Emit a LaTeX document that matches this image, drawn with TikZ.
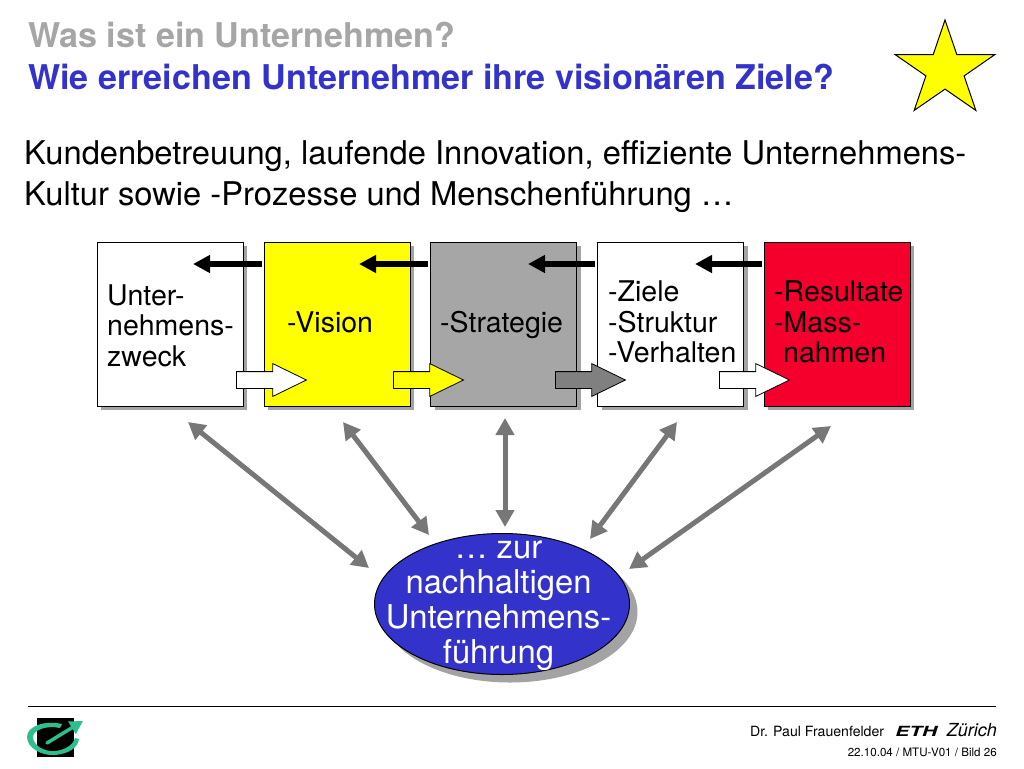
\documentclass[tikz,border=0pt]{standalone}
\usepackage{fontspec}
\setmainfont{TeX Gyre Heros}
\usetikzlibrary{
    arrows.meta,
    shapes.geometric,
    shapes.arrows,
    shadows,
    calc
}
\definecolor{titleblue}{HTML}{3333CC}
\definecolor{titlegray}{HTML}{A6A6A6}
\definecolor{boxgray}{HTML}{A6A6A6}
\definecolor{boxyellow}{HTML}{FFFF00}
\definecolor{shadowgray}{HTML}{A3A3A3}
\definecolor{blockgray}{HTML}{808080}
\definecolor{linkgray}{HTML}{777777}
\definecolor{boxred}{HTML}{F5002D}
\definecolor{logogreen}{HTML}{2DBE8C}
\tikzset {
    title text/.style = {anchor = base west, inner sep = 0pt, font = \fontsize{34.1}{38}\selectfont\bfseries},
    body text/.style = {anchor = base west, inner sep = 0pt, font = \fontsize{32.7}{36}\selectfont},
    box/.style = {
        draw = black, line width = 1pt, minimum width = 146pt, minimum height = 164pt,
        drop shadow = {shadow xshift = 4pt, shadow yshift = -4pt, fill = shadowgray, opacity = 1}
    },
    box text/.style = {
        anchor = north west, inner sep = 0pt, align = left,
        font = \fontsize{28.5}{30.5}\selectfont
    },
    back arrow/.style = {
        line width = 5.5pt, shorten <= 2pt,
        arrows = {-Triangle[length = 17pt, width = 17pt]}
    },
    block arrow/.style = {
        draw = black, line width = .8pt, shape = single arrow, anchor = tail,
        inner xsep = 0pt, inner ysep = 8pt,
        minimum height = 70pt, minimum width = 32pt,
        single arrow head extend = 8pt, single arrow tip angle = 52,
        single arrow head indent = 0pt
    },
    link/.style = {
        draw = linkgray, line width = 5pt,
        arrows = {Triangle[length = 17pt, width = 18pt]-Triangle[length = 17pt, width = 18pt]}
    }
}
\begin{document}
\begin{tikzpicture}[x = 1pt, y = -1pt]
    \useasboundingbox (0, 0) rectangle (1024, 768);
    \node (titlea) [title text, text = titlegray] at (28, 48) {Was ist ein Unternehmen?};
    \node (titleb) [title text, text = titleblue] at (28, 89) {Wie erreichen Unternehmer ihre visionären Ziele?};
    \node (star) [star, star points = 5, star point ratio = 2.618, draw = black, line width = 1pt,
        fill = boxyellow, minimum size = 100pt, inner sep = 0pt, xscale = 1.05] at (945, 70) {};
    \node (bodya) [body text] at (24, 164) {Kundenbetreuung, laufende Innovation, effiziente Unternehmens-};
    \node (bodyb) [body text] at (24, 205) {Kultur sowie -Prozesse und Menschenführung …};

    \node (zweck) [box, fill = white] at (170, 324) {};
    \node (vision) [box, fill = boxyellow] at (337, 324) {};
    \node (strategie) [box, fill = boxgray] at (503.5, 324) {};
    \node (ziele) [box, fill = white] at (670.5, 324) {};
    \node (resultate) [box, fill = boxred] at (837, 324) {};

    \coordinate (tipa) at (193, 264);
    \coordinate (tipb) at (359, 264);
    \coordinate (tipc) at (528, 264);
    \coordinate (tipd) at (695, 264);
    \draw [back arrow] (vision.west |- tipa) -- (tipa);
    \draw [back arrow] (strategie.west |- tipb) -- (tipb);
    \draw [back arrow] (ziele.west |- tipc) -- (tipc);
    \draw [back arrow] (resultate.west |- tipd) -- (tipd);

    \node (zwecktext) [box text] at (107, 284.5) {Unter-\\nehmens-\\zweck};
    \node (visiontext) [box text, anchor = base west] at (287, 332) {-Vision};
    \node (strategietext) [box text, anchor = base west] at (440, 332) {-Strategie};
    \node (zieletext) [box text] at (608, 281) {-Ziele\\-Struktur\\-Verhalten};
    \node (resultatetext) [box text] at (774, 281) {-Resultate\\-Mass-\\\hspace*{9pt}nahmen};

    \node (blocka) [block arrow, fill = white] at (236, 380) {};
    \node (blockb) [block arrow, fill = boxyellow] at (393, 380) {};
    \node (blockc) [block arrow, fill = blockgray] at (555, 380) {};
    \node (blockd) [block arrow, fill = white] at (719, 380) {};

    \node (kern) [ellipse, draw = black, line width = 1pt, fill = titleblue,
        minimum width = 255pt, minimum height = 141pt, inner sep = 0pt,
        drop shadow = {shadow xshift = 8pt, shadow yshift = -8pt, fill = shadowgray, opacity = 1}]
        at (502, 604) {};
    \node (kerntext) [text = white, inner sep = 0pt, align = center,
        font = \fontsize{32.8}{35}\selectfont] at (498.5, 606) {… zur\\nachhaltigen\\Unternehmens-\\führung};

    \coordinate (linka) at (188, 422);
    \coordinate (linkb) at (343, 422);
    \coordinate (linkc) at (505, 418);
    \coordinate (linkd) at (677, 422);
    \coordinate (linke) at (831, 426);
    \coordinate (enda) at (369, 568);
    \coordinate (endb) at (429, 535);
    \coordinate (endc) at (505, 527);
    \coordinate (endd) at (590, 539);
    \coordinate (ende) at (629, 569);
    \draw [link] (linka) -- (enda);
    \draw [link] (linkb) -- (endb);
    \draw [link] (linkc) -- (endc);
    \draw [link] (linkd) -- (endd);
    \draw [link] (linke) -- (ende);

    \coordinate (rulea) at (28, 706.5);
    \coordinate (ruleb) at (996, 706.5);
    \draw [line width = 1pt] (rulea) -- (ruleb);
    \node (logo) [fill = black, minimum width = 37pt, minimum height = 39pt, inner sep = 0pt] at (55.5, 737.5) {};
    \fill [logogreen] (62, 724) .. controls (45, 720) and (27, 726) .. (27, 737)
        .. controls (27, 748) and (42, 756) .. (55, 755)
        .. controls (68, 754) and (78, 748) .. (79, 739) -- (75, 738)
        .. controls (73, 745) and (65, 750) .. (55, 751)
        .. controls (44, 752) and (33, 745) .. (33, 737)
        .. controls (33, 730) and (47, 725) .. (60, 728) -- cycle;
    \coordinate (logostart) at (47, 743);
    \coordinate (logotip) at (83, 721);
    \draw [logogreen, line width = 3.5pt, line cap = round, arrows = {-Triangle[length = 13pt, width = 14pt]}] (logostart) -- (logotip);

    \node (autor) [anchor = base west, inner sep = 0pt, font = \fontsize{14.1}{16}\selectfont] at (750, 736) {Dr. Paul Frauenfelder};
    \node (eth) [anchor = base west, inner sep = 0pt, xscale = 1.5, font = \fontsize{14}{16}\selectfont\bfseries\itshape] at (895, 736) {ETH};
    \node (zuerich) [anchor = base east, inner sep = 0pt, font = \fontsize{18}{16}\selectfont\itshape] at (997, 736) {Zürich};
    \node (stand) [anchor = base east, inner sep = 0pt, font = \fontsize{11.6}{13}\selectfont] at (997, 756) {22.10.04 / MTU-V01 / Bild 26};
\end{tikzpicture}
\end{document}
